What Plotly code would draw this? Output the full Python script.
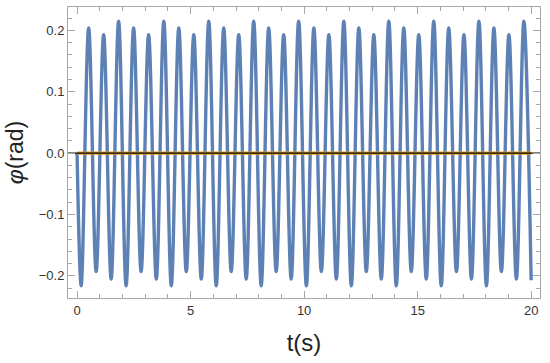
import plotly.graph_objects as go

# --- data ---
t_start = [0.0]
phi_start = [0.0]

peak_t = [0.51, 1.17, 1.83, 2.49, 3.15, 3.82, 4.48, 5.14, 5.80, 6.46,
          7.12, 7.78, 8.44, 9.10, 9.76, 10.43, 11.09, 11.75, 12.41, 13.07,
          13.73, 14.39, 15.05, 15.71, 16.37, 17.04, 17.70, 18.36, 19.02, 19.68]
peak_v = [0.204, 0.193, 0.215, 0.204, 0.193, 0.215, 0.204, 0.193, 0.215, 0.204,
          0.193, 0.215, 0.204, 0.193, 0.215, 0.204, 0.193, 0.215, 0.204, 0.193,
          0.215, 0.204, 0.193, 0.215, 0.204, 0.193, 0.215, 0.204, 0.193, 0.215]

trough_t = [0.18, 0.84, 1.50, 2.16, 2.82, 3.49, 4.15, 4.81, 5.47, 6.13,
            6.79, 7.45, 8.11, 8.77, 9.43, 10.10, 10.76, 11.42, 12.08, 12.74,
            13.40, 14.06, 14.72, 15.38, 16.04, 16.71, 17.37, 18.03, 18.69, 19.35]
trough_v = [-0.216, -0.193, -0.205, -0.216, -0.193, -0.205, -0.216, -0.193, -0.205, -0.216,
            -0.193, -0.205, -0.216, -0.193, -0.205, -0.216, -0.193, -0.205, -0.216, -0.193,
            -0.205, -0.216, -0.193, -0.205, -0.216, -0.193, -0.205, -0.216, -0.193, -0.205]

t_end = [20.0]
phi_end = [-0.207]

eq_t = [0.0, 20.0]
eq_phi = [0.0, 0.0]

x_range = [-0.40, 20.39]
y_range = [-0.236, 0.238]

x_ticks = [0, 5, 10, 15, 20]
y_ticks = [-0.2, -0.1, 0.0, 0.1, 0.2]
y_labels = ["\u22120.2", "\u22120.1", "0.0", "0.1", "0.2"]

# merge extrema in time order
pts = sorted(zip(t_start + peak_t + trough_t + t_end,
                 phi_start + peak_v + trough_v + phi_end))
t_all = [p[0] for p in pts]
phi_all = [p[1] for p in pts]

BLUE = "#5E81B5"
ORANGE = "#E19C24"
FRAME = "#a8a8a8"
FONT = "Liberation Sans, Arial, sans-serif"

fig = go.Figure()
fig.add_trace(go.Scatter(x=t_all, y=phi_all, mode="lines",
                         line=dict(color=BLUE, width=3.4, shape="spline", smoothing=1.0),
                         hoverinfo="skip", showlegend=False))
fig.add_trace(go.Scatter(x=eq_t, y=eq_phi, mode="lines",
                         line=dict(color=ORANGE, width=3.2),
                         hoverinfo="skip", showlegend=False))
fig.add_trace(go.Scatter(x=x_range, y=eq_phi, mode="lines",
                         line=dict(color="black", width=1.1),
                         hoverinfo="skip", showlegend=False))

axis_common = dict(
    showline=True, linecolor=FRAME, linewidth=1, mirror="allticks",
    ticks="inside", ticklen=7, tickcolor=FRAME, tickwidth=1,
    showgrid=False, zeroline=False, automargin=False,
    tickfont=dict(family=FONT, size=13, color="#333333"),
)

fig.update_layout(
    width=550, height=363,
    margin=dict(l=68, r=10, t=7, b=65),
    paper_bgcolor="white", plot_bgcolor="white",
    xaxis=dict(range=x_range, tickvals=x_ticks,
               minor=dict(dtick=1, ticklen=4, ticks="inside", tickcolor=FRAME, showgrid=False),
               title=dict(text="t(s)", font=dict(family=FONT, size=24, color="#222222"), standoff=17),
               **axis_common),
    yaxis=dict(range=y_range, tickvals=y_ticks, ticktext=y_labels,
               minor=dict(dtick=0.02, ticklen=4, ticks="inside", tickcolor=FRAME, showgrid=False),
               title=dict(text="<i>\u03c6</i>(rad)", font=dict(family=FONT, size=23, color="#222222"), standoff=8),
               **axis_common),
)

fig.write_html("out.html", config={"displayModeBar": False},
               post_script="document.body.style.margin='0';document.body.style.padding='0';")
